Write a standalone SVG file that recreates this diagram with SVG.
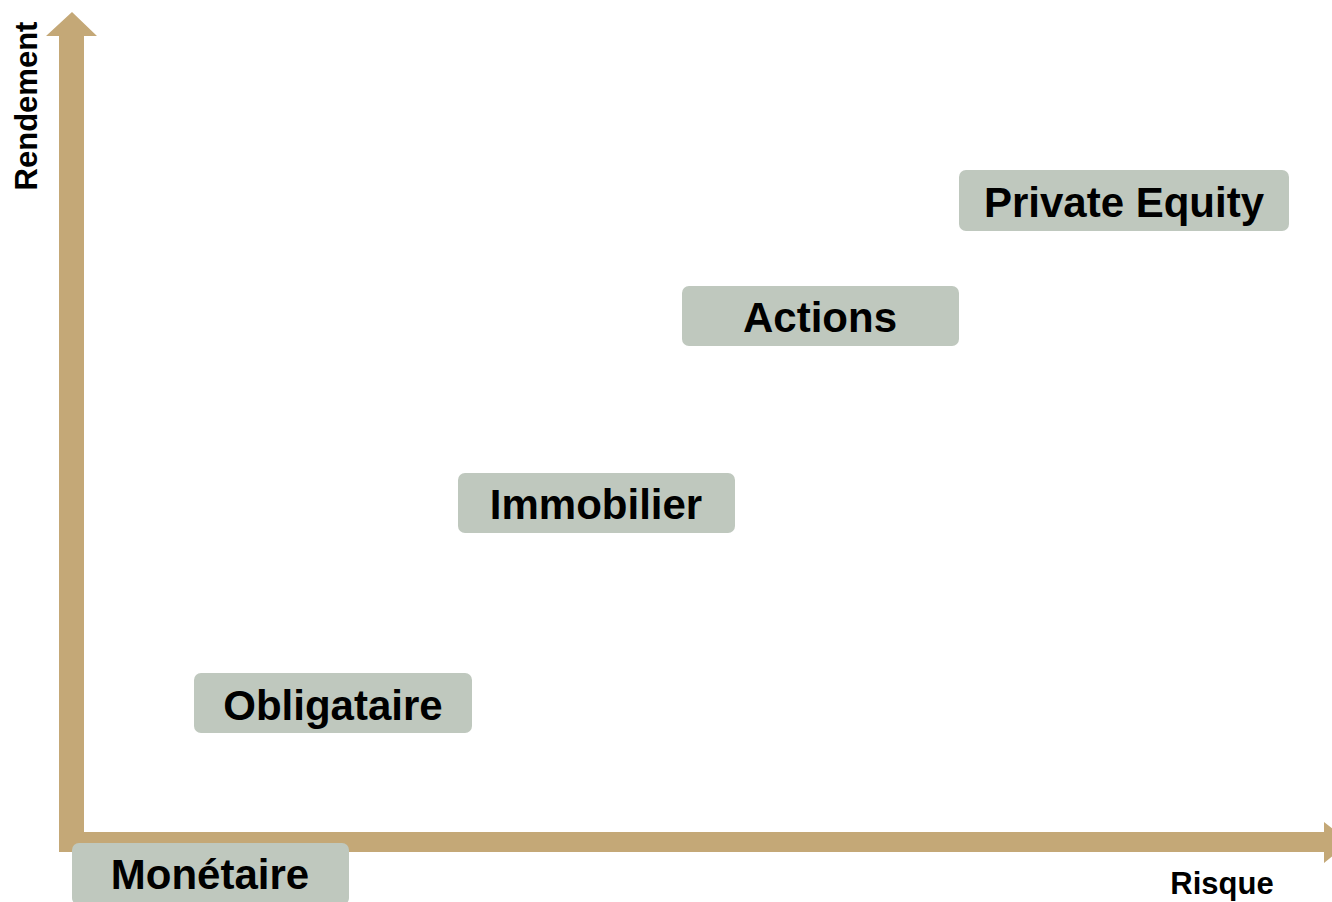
<svg xmlns="http://www.w3.org/2000/svg" width="1332" height="902" viewBox="0 0 1332 902">
<style>
.axis{fill:#C4A877}
.box{fill:#BFC8BE}
.lbl{font-family:"Liberation Sans",Arial,sans-serif;font-weight:bold;font-size:42px;fill:#000;text-anchor:middle}
.ax{font-family:"Liberation Sans",Arial,sans-serif;font-weight:bold;font-size:31px;fill:#000}
</style>
<rect width="1332" height="902" fill="#fff"/>
<g id="connectors">
<polygon class="axis" points="59,852 59,36 46,36 72,12 97,36 84,36 84,832 1324,832 1324,822 1350,842 1324,863 1324,852"/>
</g>
<g id="axis-y-label"><text class="ax" transform="translate(37,106) rotate(-90)" text-anchor="middle">Rendement</text></g>
<g id="axis-x-label"><text class="ax" x="1222" y="894" text-anchor="middle">Risque</text></g>
<g id="monetaire"><rect class="box" x="72" y="843" width="277" height="62" rx="7"/><text class="lbl" x="210" y="889">Monétaire</text></g>
<g id="obligataire"><rect class="box" x="194" y="673" width="278" height="60" rx="7"/><text class="lbl" x="333" y="720">Obligataire</text></g>
<g id="immobilier"><rect class="box" x="458" y="473" width="277" height="60" rx="7"/><text class="lbl" x="596" y="519">Immobilier</text></g>
<g id="actions"><rect class="box" x="682" y="286" width="277" height="60" rx="7"/><text class="lbl" x="820" y="332">Actions</text></g>
<g id="private-equity"><rect class="box" x="959" y="170" width="330" height="61" rx="7"/><text class="lbl" x="1124" y="217">Private Equity</text></g>
</svg>
